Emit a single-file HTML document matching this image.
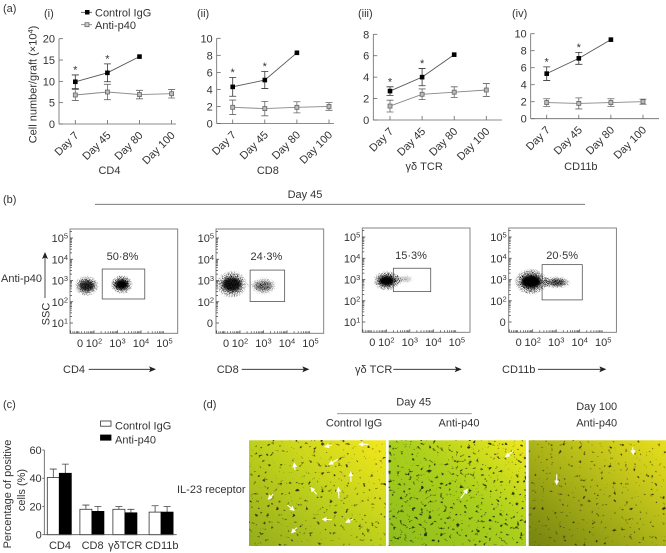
<!DOCTYPE html>
<html>
<head>
<meta charset="utf-8">
<style>
html,body{margin:0;padding:0;background:#fff;}
svg{display:block;filter:blur(0.3px);}
text{font-family:"Liberation Sans",sans-serif;font-size:11px;fill:#333;}
</style>
</head>
<body>
<svg id="fig" width="666" height="553" viewBox="0 0 666 553" xmlns="http://www.w3.org/2000/svg">
<defs>
<marker id="head" markerWidth="7" markerHeight="6" refX="6" refY="3" orient="auto" markerUnits="userSpaceOnUse"><path d="M0 0L7 3L0 6L1.5 3Z" fill="#222"/></marker>
<marker id="whitehead" markerWidth="5" markerHeight="5" refX="4" refY="2.5" orient="auto" markerUnits="userSpaceOnUse"><path d="M0 0L5 2.5L0 5Z" fill="#fff"/></marker>
<radialGradient id="blob"><stop offset="0" stop-color="#000" stop-opacity="0.95"/><stop offset="0.5" stop-color="#000" stop-opacity="0.7"/><stop offset="0.8" stop-color="#000" stop-opacity="0.45"/><stop offset="1" stop-color="#000" stop-opacity="0"/></radialGradient>
<filter id="speckle" x="-5%" y="-5%" width="110%" height="110%" color-interpolation-filters="sRGB">
<feTurbulence type="fractalNoise" baseFrequency="1.6" numOctaves="2" seed="4" result="n"/>
<feColorMatrix in="n" type="matrix" values="0 0 0 0 0  0 0 0 0 0  0 0 0 0 0  2.4 0 0 0 -0.6" result="na"/>
<feComposite in="na" in2="SourceGraphic" operator="in" result="m"/>
<feComponentTransfer in="m"><feFuncA type="linear" slope="3.5" intercept="-1.05"/></feComponentTransfer>
</filter>
<filter id="coreblur" x="-40%" y="-40%" width="180%" height="180%"><feGaussianBlur stdDeviation="1.4"/></filter>
<filter id="cells1" x="0" y="0" width="100%" height="100%" color-interpolation-filters="sRGB">
<feTurbulence type="fractalNoise" baseFrequency="0.24 0.28" numOctaves="2" seed="7"/>
<feColorMatrix type="matrix" values="0 0 0 0 0.2  0 0 0 0 0.2  0 0 0 0 0.05  7 0 0 0 -4.55"/>
</filter>
<filter id="cells2" x="0" y="0" width="100%" height="100%" color-interpolation-filters="sRGB">
<feTurbulence type="fractalNoise" baseFrequency="0.25 0.3" numOctaves="2" seed="21"/>
<feColorMatrix type="matrix" values="0 0 0 0 0.15  0 0 0 0 0.2  0 0 0 0 0.05  7 0 0 0 -4.35"/>
</filter>
<filter id="cells3" x="0" y="0" width="100%" height="100%" color-interpolation-filters="sRGB">
<feTurbulence type="fractalNoise" baseFrequency="0.24 0.28" numOctaves="2" seed="33"/>
<feColorMatrix type="matrix" values="0 0 0 0 0.2  0 0 0 0 0.2  0 0 0 0 0.05  7 0 0 0 -4.7"/>
</filter>
<linearGradient id="tissue1" x1="0" y1="1" x2="1" y2="0"><stop offset="0" stop-color="#94ac1c"/><stop offset="0.5" stop-color="#bed01c"/><stop offset="1" stop-color="#f4e81c"/></linearGradient>
<linearGradient id="tissue2" x1="0" y1="1" x2="1" y2="0"><stop offset="0" stop-color="#8cbc1c"/><stop offset="0.55" stop-color="#acd01c"/><stop offset="1" stop-color="#f0e81c"/></linearGradient>
<linearGradient id="tissue3" x1="0" y1="1" x2="1" y2="0"><stop offset="0" stop-color="#748210"/><stop offset="0.5" stop-color="#acb418"/><stop offset="1" stop-color="#e8e01c"/></linearGradient>
</defs>

<g>
<text x="3" y="12">(a)</text>
<text x="44" y="17">(i)</text>
<text x="197" y="17">(ii)</text>
<text x="358" y="17">(iii)</text>
<text x="512" y="17">(iv)</text>
<g>
<line x1="81" y1="12.3" x2="92" y2="12.3" stroke="#444" stroke-width="0.8"/>
<rect x="85" y="10" width="4.5" height="4.5" fill="#000"/>
<text x="95" y="16.5">Control IgG</text>
</g>
<g>
<line x1="81" y1="24.7" x2="92" y2="24.7" stroke="#777" stroke-width="0.8"/>
<rect x="85" y="22.7" width="4" height="4" fill="#ccc" stroke="#666" stroke-width="0.8"/>
<text x="95" y="29">Anti-p40</text>
</g>
<text transform="translate(36.5,84.5) rotate(-90)" text-anchor="middle">Cell number/graft (×10<tspan font-size="7.5" dy="-3.5">4</tspan><tspan dy="3.5">)</tspan></text>
</g>

<g>
<text x="3" y="203">(b)</text>
<text x="305" y="198" text-anchor="middle">Day 45</text>
<line x1="95" y1="204.3" x2="585" y2="204.3" stroke="#666" stroke-width="0.9"/>
<text x="1" y="282">Anti-p40</text>
<text transform="translate(49.5,314) rotate(-90)" text-anchor="middle">SSC</text>
<line x1="45" y1="298" x2="45" y2="253" stroke="#222" stroke-width="0.8" marker-end="url(#head)"/>
</g>

<g id="charts"></g>
<g id="flows"></g>

<g>
<text x="3" y="408">(c)</text>
<rect x="100.5" y="421" width="10.5" height="5.2" fill="#fff" stroke="#333" stroke-width="0.8"/>
<text x="115" y="429.5">Control IgG</text>
<rect x="100.5" y="435" width="10.5" height="5.2" fill="#000" stroke="#000" stroke-width="0.8"/>
<text x="115" y="443.5">Anti-p40</text>
<text transform="translate(11,494) rotate(-90)" text-anchor="middle">Percentage of positive</text>
<text transform="translate(25,490) rotate(-90)" text-anchor="middle">cells (%)</text>
</g>
<g id="bars"></g>

<g>
<text x="203" y="408">(d)</text>
<text x="413.7" y="405.7" text-anchor="middle">Day 45</text>
<line x1="337" y1="413.7" x2="471.7" y2="413.7" stroke="#888" stroke-width="0.9"/>
<text x="354" y="426.7" text-anchor="middle">Control IgG</text>
<text x="459" y="426.7" text-anchor="middle">Anti-p40</text>
<text x="596.7" y="410" text-anchor="middle">Day 100</text>
<text x="596.7" y="426.7" text-anchor="middle">Anti-p40</text>
<text x="177" y="493">IL-23 receptor</text>

<g>
<rect x="249" y="440.3" width="137" height="105.7" fill="url(#tissue1)"/>
<rect x="249" y="440.3" width="137" height="105.7" filter="url(#cells1)"/>
<g stroke="#fff" stroke-width="1.1">
<line x1="331.7" y1="445" x2="325" y2="446.7" marker-end="url(#whitehead)"/>
<line x1="368.3" y1="444.3" x2="359.3" y2="444.3" marker-end="url(#whitehead)"/>
<line x1="338.3" y1="459" x2="329.3" y2="464.3" marker-end="url(#whitehead)"/>
<line x1="295" y1="470" x2="294.3" y2="463.3" marker-end="url(#whitehead)"/>
<line x1="351" y1="481.7" x2="350.7" y2="472.3" marker-end="url(#whitehead)"/>
<line x1="316.7" y1="494.3" x2="311" y2="487.7" marker-end="url(#whitehead)"/>
<line x1="339" y1="498.3" x2="338.3" y2="487.7" marker-end="url(#whitehead)"/>
<line x1="273.3" y1="494.3" x2="268.3" y2="499" marker-end="url(#whitehead)"/>
<line x1="287.3" y1="505" x2="294" y2="510.3" marker-end="url(#whitehead)"/>
<line x1="331.7" y1="519.7" x2="322.7" y2="519.3" marker-end="url(#whitehead)"/>
<line x1="352.7" y1="519" x2="346" y2="522.3" marker-end="url(#whitehead)"/>
<line x1="296.7" y1="527.7" x2="291.7" y2="532.7" marker-end="url(#whitehead)"/>
</g>
</g>
<g>
<rect x="388.7" y="440.3" width="137.3" height="105.7" fill="url(#tissue2)"/>
<rect x="388.7" y="440.3" width="137.3" height="105.7" filter="url(#cells2)"/>
<g stroke="#fff" stroke-width="1.1">
<line x1="513.3" y1="451" x2="505.7" y2="456.7" marker-end="url(#whitehead)"/>
<line x1="460.7" y1="498.3" x2="467.3" y2="489.3" marker-end="url(#whitehead)"/>
</g>
</g>
<g>
<rect x="528.7" y="440.3" width="137.3" height="105.7" fill="url(#tissue3)"/>
<rect x="528.7" y="440.3" width="137.3" height="105.7" filter="url(#cells3)"/>
<g stroke="#fff" stroke-width="1.1">
<line x1="556.7" y1="474.3" x2="556.7" y2="484.3" marker-end="url(#whitehead)"/>
<line x1="632.7" y1="447.3" x2="633.3" y2="454.3" marker-end="url(#whitehead)"/>
</g>
</g>
</g>
</svg>
<script>
// ---------- Panel (a) data ----------
const days = ['Day 7', 'Day 45', 'Day 80', 'Day 100'];
const lineChartTitles = ['CD4', 'CD8', 'γδ TCR', 'CD11b'];
const yTicksI = [0, 5, 10, 15, 20];
const yTicksII = [0, 2, 4, 6, 8, 10];
const yTicksIII = [0, 2, 4, 6, 8];
const yTicksIV = [0, 2, 4, 6, 8, 10];
const controlI = [9.9, 12, 15.8];
const controlErrI = [1.6, 2.1, 0];
const antiI = [6.8, 7.5, 6.9, 7.1];
const antiErrI = [1.3, 1.8, 1, 1];
const controlII = [4.3, 5.1, 8.3];
const controlErrII = [1.1, 1, 0];
const antiII = [1.9, 1.75, 1.9, 2];
const antiErrII = [0.85, 0.85, 0.65, 0.45];
const controlIII = [2.7, 4, 6.1];
const controlErrIII = [0.4, 0.8, 0];
const antiIII = [1.3, 2.4, 2.6, 2.8];
const antiErrIII = [0.55, 0.5, 0.5, 0.6];
const controlIV = [5.3, 7.1, 9.3];
const controlErrIV = [0.8, 0.7, 0];
const antiIV = [1.9, 1.8, 1.9, 2];
const antiErrIV = [0.45, 0.65, 0.45, 0.3];

// ---------- Panel (b) data (log decades) ----------
const flowMarkers = ['CD4', 'CD8', 'γδ TCR', 'CD11b'];
const flowPercents = ['50·8%', '24·3%', '15·3%', '20·5%'];
const flowYLowLabelsAreZero = [false, true, false, true];
const negCenterX = [1.69, 1.65, 2.02, 1.93];
const negCenterY = [2.75, 2.82, 2.94, 2.9];
const negSpreadX = [0.62, 0.78, 0.66, 0.82];
const negSpreadY = [0.58, 0.76, 0.54, 0.72];
const negDensity = [0.9, 0.95, 1, 1];
const posCenterX = [3.18, 2.99, 2.8, 3.02];
const posCenterY = [2.81, 2.74, 3.02, 2.86];
const posSpreadX = [0.55, 0.74, 0.55, 0.75];
const posSpreadY = [0.52, 0.52, 0.3, 0.36];
const posDensity = [1, 0.72, 0.52, 0.8];
const gateLowX = [2.35, 2.43, 2.3, 2.4];
const gateHighX = [4.16, 3.9, 3.89, 4.11];
const gateLowY = [2.13, 2.01, 2.43, 2.04];
const gateHighY = [3.54, 3.49, 3.53, 3.7];

// ---------- Panel (c) data ----------
const barCategories = ['CD4', 'CD8', 'γδTCR', 'CD11b'];
const barTicks = [0, 20, 40, 60];
const barControl = [40.5, 18, 18, 16];
const barControlErr = [6, 3, 2, 4.5];
const barAnti = [43.5, 16.5, 15.5, 16];
const barAntiErr = [6.5, 3.5, 2.5, 4];

const NS = 'http://www.w3.org/2000/svg';
function el(parent, tag, attrs, txt) {
  const n = document.createElementNS(NS, tag);
  for (const k in attrs) n.setAttribute(k, attrs[k]);
  if (txt !== undefined) n.textContent = txt;
  parent.appendChild(n);
  return n;
}
function sup(parent, attrs, base, exp) {
  const t = el(parent, 'text', attrs, base);
  const s = el(t, 'tspan', {'font-size': '7.5', dy: '-3.5'}, exp);
  s.setAttribute('style', 'font-size:7.5px');
  return t;
}

// ---------- Line charts ----------
const lineSpecs = [
  {left: 59, right: 176, y0: 124, yTop: 38.7, t0: 75.3, step: 32.1, titleY: 174, ticks: yTicksI, control: controlI, cErr: controlErrI, anti: antiI, aErr: antiErrI},
  {left: 216.7, right: 334, y0: 123.5, yTop: 38.3, t0: 232.7, step: 32.1, titleY: 174, ticks: yTicksII, control: controlII, cErr: controlErrII, anti: antiII, aErr: antiErrII},
  {left: 373.3, right: 502, y0: 120, yTop: 34.3, t0: 390, step: 32.1, titleY: 170, ticks: yTicksIII, control: controlIII, cErr: controlErrIII, anti: antiIII, aErr: antiErrIII},
  {left: 530.7, right: 659, y0: 118.7, yTop: 33.7, t0: 546.7, step: 32.1, titleY: 170, ticks: yTicksIV, control: controlIV, cErr: controlErrIV, anti: antiIV, aErr: antiErrIV}
];
const chartsG = document.getElementById('charts');
lineSpecs.forEach(function (s, p) {
  const g = el(chartsG, 'g', {});
  
  
  const maxY = s.ticks[s.ticks.length - 1];
  const yS = function (v) { return s.y0 - v / maxY * (s.y0 - s.yTop); };
  const xS = function (i) { return s.t0 + i * s.step; };

  const yAxis = el(g, 'line', {x1: s.left, x2: s.left, y1: s.y0, y2: s.yTop, stroke: '#666', 'stroke-width': 0.8});
  
  
  const xAxis = el(g, 'line', {x1: s.left, x2: s.right, y1: s.y0, y2: s.y0, stroke: '#666', 'stroke-width': 0.8});
  
  

  s.ticks.forEach(function (v) {
    el(g, 'line', {x1: s.left, x2: s.left + 4, y1: yS(v), y2: yS(v), stroke: '#666', 'stroke-width': 0.8});
    const t = el(g, 'text', {x: s.left - 4, y: yS(v) + 4, 'text-anchor': 'end'}, v);
    
    
  });
  days.forEach(function (d, i) {
    el(g, 'line', {x1: xS(i), x2: xS(i), y1: s.y0, y2: s.y0 - 4, stroke: '#666', 'stroke-width': 0.8});
    const t = el(g, 'text', {transform: 'translate(' + (xS(i) + 4) + ',' + (s.y0 + 12) + ') rotate(-45)', 'text-anchor': 'end'}, d);
    
    
  });
  const title = el(g, 'text', {x: xS(1.5) - (p === 1 ? 13 : 14), y: s.titleY, 'text-anchor': 'middle'}, lineChartTitles[p]);
  
  

  function series(vals, errs, color, lineColor, isControl) {
    const sg = el(g, 'g', {});
    
    
    el(sg, 'polyline', {points: vals.map(function (v, i) { return xS(i) + ',' + yS(v); }).join(' '), fill: 'none', stroke: lineColor, 'stroke-width': 0.9});
    vals.forEach(function (v, i) {
      if (errs[i] > 0) {
        const top = yS(v + errs[i]), bot = yS(v - errs[i]);
        el(sg, 'path', {d: 'M' + xS(i) + ' ' + top + 'V' + bot + 'M' + (xS(i) - 3.5) + ' ' + top + 'h7M' + (xS(i) - 3.5) + ' ' + bot + 'h7', fill: 'none', stroke: color, 'stroke-width': 0.8});
      }
      if (isControl) {
        const m = el(sg, 'rect', {x: xS(i) - 2.3, y: yS(v) - 2.3, width: 4.6, height: 4.6, fill: '#000'});
        
        
        if (errs[i] > 0) {
          const star = el(sg, 'text', {x: xS(i), y: yS(v + errs[i]) - 1.5, 'text-anchor': 'middle'}, '*');
          
          
        }
      } else {
        const m = el(sg, 'rect', {x: xS(i) - 2, y: yS(v) - 2, width: 4, height: 4, fill: '#bbb', stroke: '#666', 'stroke-width': 0.8});
        
        
      }
    });
  }
  series(s.anti, s.aErr, '#666', '#888', false);
  series(s.control, s.cErr, '#333', '#555', true);
});

// ---------- Flow plots ----------
const flowFrames = [
  {left: 70, top: 229, lab: 63, a0: 88.7, a1: 155},
  {left: 216, top: 229, lab: 216.7, a0: 241.7, a1: 308.3},
  {left: 362.3, top: 228, lab: 355, a0: 393.3, a1: 460.7},
  {left: 508.7, top: 228, lab: 502, a0: 538, a1: 605.3}
];
const flowsG = document.getElementById('flows');
flowFrames.forEach(function (f, p) {
  const g = el(flowsG, 'g', {});
  
  
  const W = 107.7, H = 104.3;
  const xD = function (d) { return f.left + 24 + (d - 2) * 23.5; };
  const yD = function (d) { return f.top + 94 - (d - 1) * 21.25; };

  const dots = el(g, 'g', {filter: 'url(#speckle)'});
  
  
  el(dots, 'ellipse', {cx: xD(negCenterX[p]), cy: yD(negCenterY[p]), rx: negSpreadX[p] * 23.5, ry: negSpreadY[p] * 21.25, fill: 'url(#blob)', 'fill-opacity': negDensity[p]});
  el(dots, 'ellipse', {cx: xD(posCenterX[p]), cy: yD(posCenterY[p]), rx: posSpreadX[p] * 23.5, ry: posSpreadY[p] * 21.25, fill: 'url(#blob)', 'fill-opacity': posDensity[p]});

  const negCore = el(g, 'ellipse', {cx: xD(negCenterX[p]), cy: yD(negCenterY[p]), rx: negSpreadX[p] * 23.5 * 0.5, ry: negSpreadY[p] * 21.25 * 0.42, fill: '#000', 'fill-opacity': Math.pow(negDensity[p], 3), filter: 'url(#coreblur)'});
  
  
  const posCore = el(g, 'ellipse', {cx: xD(posCenterX[p]), cy: yD(posCenterY[p]), rx: posSpreadX[p] * 23.5 * 0.5, ry: posSpreadY[p] * 21.25 * 0.42, fill: '#000', 'fill-opacity': Math.pow(posDensity[p], 3), filter: 'url(#coreblur)'});
  
  

  const frame = el(g, 'rect', {x: f.left, y: f.top, width: W, height: H, fill: 'none', stroke: '#777', 'stroke-width': 0.9});
  
  
  const gate = el(g, 'rect', {x: xD(gateLowX[p]), y: yD(gateHighY[p]), width: xD(gateHighX[p]) - xD(gateLowX[p]), height: yD(gateLowY[p]) - yD(gateHighY[p]), fill: 'none', stroke: '#555', 'stroke-width': 0.8});
  
  
  const pct = el(g, 'text', {x: xD((gateLowX[p] + gateHighX[p]) / 2) - (p === 3 ? 0 : 1), y: f.top + 31, 'text-anchor': 'middle'}, flowPercents[p]);
  
  

  // minor and major log ticks
  let d1 = '', d2 = '';
  for (let dec = 0; dec < 5; dec++) {
    for (let m = 1; m < 10; m++) {
      const o = Math.log10(m);
      const yy = f.top + 94 - (dec + o) * 21.25;
      if (yy > f.top && yy < f.top + H) d1 += 'M' + f.left + ' ' + yy + 'h' + (m === 1 ? 3 : 2);
    }
  }
  const xTickPos = [10, 24, 47.5, 71, 94.5];
  for (let k = 0; k < 5; k++) {
    for (let m = 1; m < 10; m++) {
      const xx = f.left + xTickPos[k] - 23.5 + Math.log10(m) * 23.5;
      if (xx > f.left) d2 += 'M' + xx + ' ' + (f.top + H) + 'v' + (m === 1 ? -3 : -2);
    }
  }
  el(g, 'path', {d: d1 + d2, fill: 'none', stroke: '#444', 'stroke-width': 0.7});

  // y tick labels
  [5, 4, 3, 2, 1].forEach(function (e) {
    const yy = yD(e) + 4;
    let t;
    if (e === 1 && flowYLowLabelsAreZero[p]) {
      t = el(g, 'text', {x: f.left - 3, y: yy, 'text-anchor': 'end'}, '0');
    } else {
      t = sup(g, {x: f.left - 2, y: yy, 'text-anchor': 'end'}, '10', String(e));
    }
    
    
  });
  // x tick labels
  const zero = el(g, 'text', {x: f.left + 10, y: f.top + 118, 'text-anchor': 'middle'}, '0');
  
  
  [2, 3, 4, 5].forEach(function (e, k) {
    const t = sup(g, {x: f.left + xTickPos[k + 1], y: f.top + 118, 'text-anchor': 'middle'}, '10', String(e));
    
    
  });
  const lab = el(g, 'text', {x: f.lab, y: 373}, flowMarkers[p]);
  
  
  const arrow = el(g, 'line', {x1: f.a0, x2: f.a1, y1: 369.3, y2: 369.3, stroke: '#222', 'stroke-width': 0.8, 'marker-end': 'url(#head)'});
  
  
});

// ---------- Bar chart ----------
const barsG = document.getElementById('bars');
const bLeft = 44.3, bRight = 176.7, bY0 = 534.7, bTop = 450, bW = 12;
const bS = function (v) { return bY0 - v / barTicks[barTicks.length - 1] * (bY0 - bTop); };
const groupStart = function (i) { return 47.3 + i * 32.6 + (i === 3 ? 4 : 0) + (i === 2 ? 0.4 : 0); };
const barLabelX = function (i) { return groupStart(i) + bW + (i === 2 ? 0.3 : 0.7); };
const bya = el(barsG, 'line', {x1: bLeft, x2: bLeft, y1: bY0, y2: bTop, stroke: '#555', 'stroke-width': 0.8});


barTicks.forEach(function (v) {
  el(barsG, 'line', {x1: bLeft - 2, x2: bLeft, y1: bS(v), y2: bS(v), stroke: '#555', 'stroke-width': 0.8});
  const t = el(barsG, 'text', {x: 41.7, y: bS(v) + 4, 'text-anchor': 'end'}, v);
  
  
});
barCategories.forEach(function (c, i) {
  const x = groupStart(i);
  function errBar(cx, v, e) {
    el(barsG, 'path', {d: 'M' + cx + ' ' + bS(v) + 'V' + bS(v + e) + 'h3.5M' + cx + ' ' + bS(v + e) + 'h-3.5', fill: 'none', stroke: '#444', 'stroke-width': 0.8});
  }
  errBar(x + bW / 2, barControl[i], barControlErr[i]);
  errBar(x + bW * 1.5, barAnti[i], barAntiErr[i]);
  const r1 = el(barsG, 'rect', {x: x, y: bS(barControl[i]), width: bW, height: bY0 - bS(barControl[i]), fill: '#fff', stroke: '#333', 'stroke-width': 0.8});
  
  
  const r2 = el(barsG, 'rect', {x: x + bW, y: bS(barAnti[i]), width: bW, height: bY0 - bS(barAnti[i]), fill: '#000', stroke: '#000', 'stroke-width': 0.8});
  
  
  const t = el(barsG, 'text', {x: barLabelX(i), y: 549, 'text-anchor': 'middle'}, c);
  
  
});
const bxa = el(barsG, 'line', {x1: bLeft, x2: bRight, y1: bY0, y2: bY0, stroke: '#555', 'stroke-width': 0.8});


</script>
</body>
</html>
